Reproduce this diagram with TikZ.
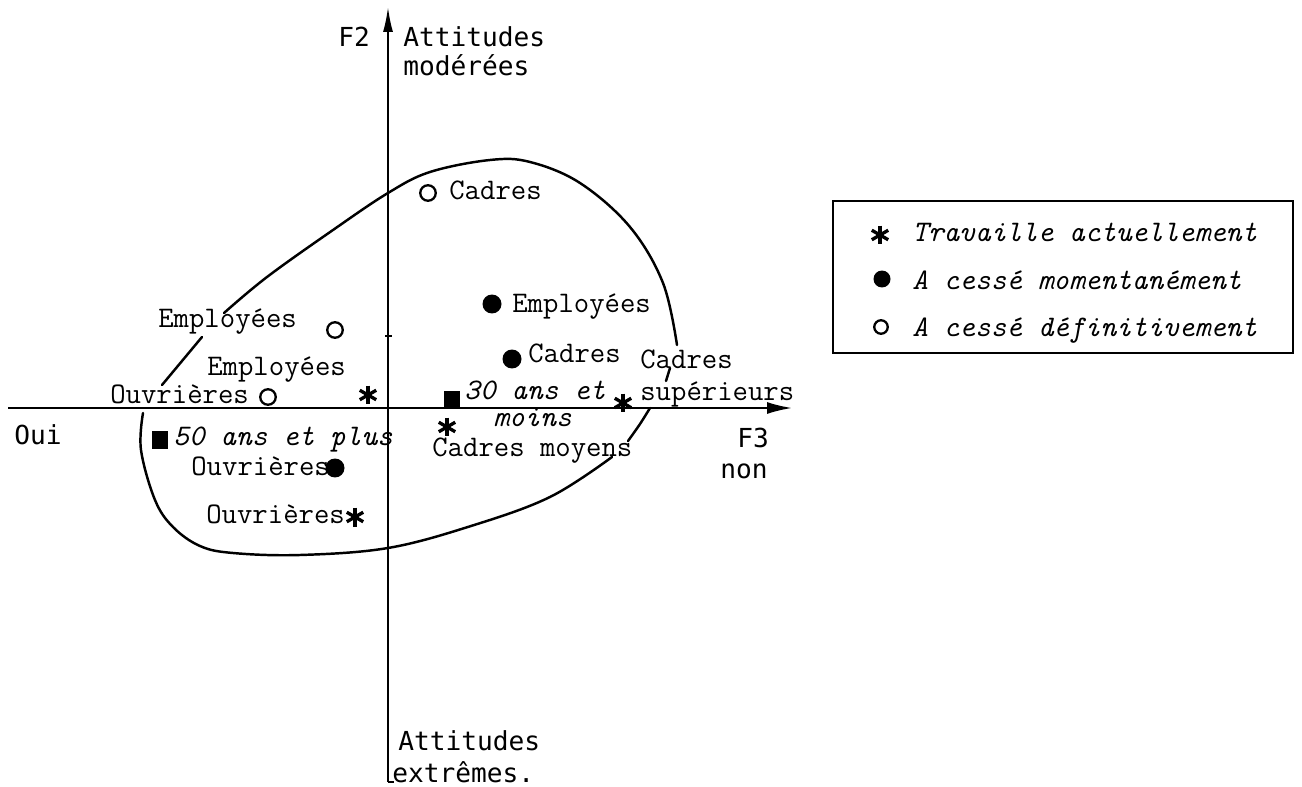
\documentclass[tikz,border=0pt]{standalone}
\usepackage{fontspec}
\usepackage{tikz}
\usetikzlibrary{arrows.meta}
\newfontfamily\lettre{DejaVu Sans Mono}
\newcommand{\taille}{\fontsize{14.9}{18}\selectfont}
\newcommand{\grand}{\fontsize{17}{20}\selectfont}

\begin{document}
\begin{tikzpicture}[x=0.02cm,y=-0.02cm,
  etiq/.style={font=\ttfamily\grand,anchor=base west,inner sep=0pt},
  axe/.style={font=\lettre\taille,anchor=base west,inner sep=0pt},
  age/.style={font=\ttfamily\itshape\grand,anchor=base west,inner sep=0pt},
  actuel/.style={circle,inner sep=0pt,minimum size=0.44cm,
    path picture={\foreach \a in {90,30,150}
      \draw[line width=1.9pt] (path picture bounding box.center) ++(\a:0.19cm) -- ++(\a+180:0.38cm);}},
  momentane/.style={circle,fill=black,inner sep=0pt,minimum size=0.38cm},
  definitif/.style={circle,draw=black,line width=1.3pt,inner sep=0pt,minimum size=0.31cm},
  carre/.style={rectangle,fill=black,inner sep=0pt,minimum width=0.32cm,minimum height=0.36cm},
  courbe/.style={line width=1.4pt,line cap=round}]
\useasboundingbox (0,0) rectangle (1302,787);

% axes
\coordinate (Xg) at (8,408);
\coordinate (Xd) at (792,408);
\coordinate (Yb) at (388,782);
\coordinate (Yh) at (388,7);
\draw[line width=1.1pt,-{Latex[length=0.5cm,width=0.24cm]}] (Xg) -- (Xd);
\draw[line width=1.1pt,-{Latex[length=0.5cm,width=0.2cm]}] (Yb) -- (Yh);
\draw[line width=1.1pt] (Yb) -- ++(6,0);
\draw[line width=1pt] (385,336) -- (392,336);

\node[axe] (F2) at (338,47) {F2};
\node[axe] (Am) at (403,47) {Attitudes};
\node[axe] (Mo) at (403,76) {modérées};
\node[axe] (Ae) at (398,750) {Attitudes};
\node[axe] (Ex) at (392,782) {extrêmes.};
\node[axe] (Oui) at (14,444) {Oui};
\node[axe] (F3) at (737,447) {F3};
\node[axe] (Non) at (720,478) {non};

% contour
\draw[courbe] plot[smooth,tension=0.6] coordinates {(224,313) (267,277) (333,230) (388,193) (430,172) (490,160) (530,162) (580,183) (630,227) (663,283) (677,345)};
\draw[courbe] (670,368) -- (666,381);
\draw[courbe] plot[smooth] coordinates {(650,408) (640,424) (628,441)};
\draw[courbe] plot[smooth,tension=0.6] coordinates {(612,457) (550,497) (471,526) (388,548) (300,555) (233,553) (200,546) (173,527) (155,500) (141,450) (143,413)};
\draw[courbe] (162,385) -- (202,337);

% points
\node[definitif] (dC) at (428,193) {};
\node[etiq] (tC) at (449,200) {Cadres};
\node[momentane] (mE) at (492,304) {};
\node[etiq] (tmE) at (512,313) {Employées};
\node[momentane] (mC) at (512,359) {};
\node[etiq] (tmC) at (528,362) {Cadres};
\node[etiq] (tCs1) at (640,368) {Cadres};
\node[etiq] (tCs2) at (640,400) {supérieurs};
\node[actuel] (aCs) at (623,403) {};
\node[carre] (q30) at (452,400) {};
\node[age] (t30a) at (464,399) {30 ans et};
\node[age] (t30b) at (493,426) {moins};
\node[actuel] (aCm) at (447,427) {};
\node[etiq] (tCm) at (432,456) {Cadres moyens};
\node[etiq] (tdE) at (158,328) {Employées};
\node[definitif] (dE) at (335,330) {};
\node[etiq] (taE) at (207,376) {Employées};
\node[actuel] (aE) at (368,395) {};
\node[etiq] (tdO) at (110,403) {Ouvrières};
\node[definitif] (dO) at (268,397) {};
\node[carre] (q50) at (160,440) {};
\node[age] (t50) at (173,445) {50 ans et plus};
\node[etiq] (tmO) at (191,475) {Ouvrières};
\node[momentane] (mO) at (335,468) {};
\node[etiq] (taO) at (206,523) {Ouvrières};
\node[actuel] (aO) at (355,517) {};

% legende
\draw[line width=1.1pt] (833,201) rectangle (1293,353);
\node[actuel] (L1) at (880,235) {};
\node[age] (tL1) at (912,242) {Travaille actuellement};
\node[momentane,minimum size=0.34cm] (L2) at (882,279) {};
\node[age] (tL2) at (912,290) {A cessé momentanément};
\node[definitif,minimum size=0.27cm] (L3) at (881,327) {};
\node[age] (tL3) at (912,337) {A cessé définitivement};
\end{tikzpicture}
\end{document}
